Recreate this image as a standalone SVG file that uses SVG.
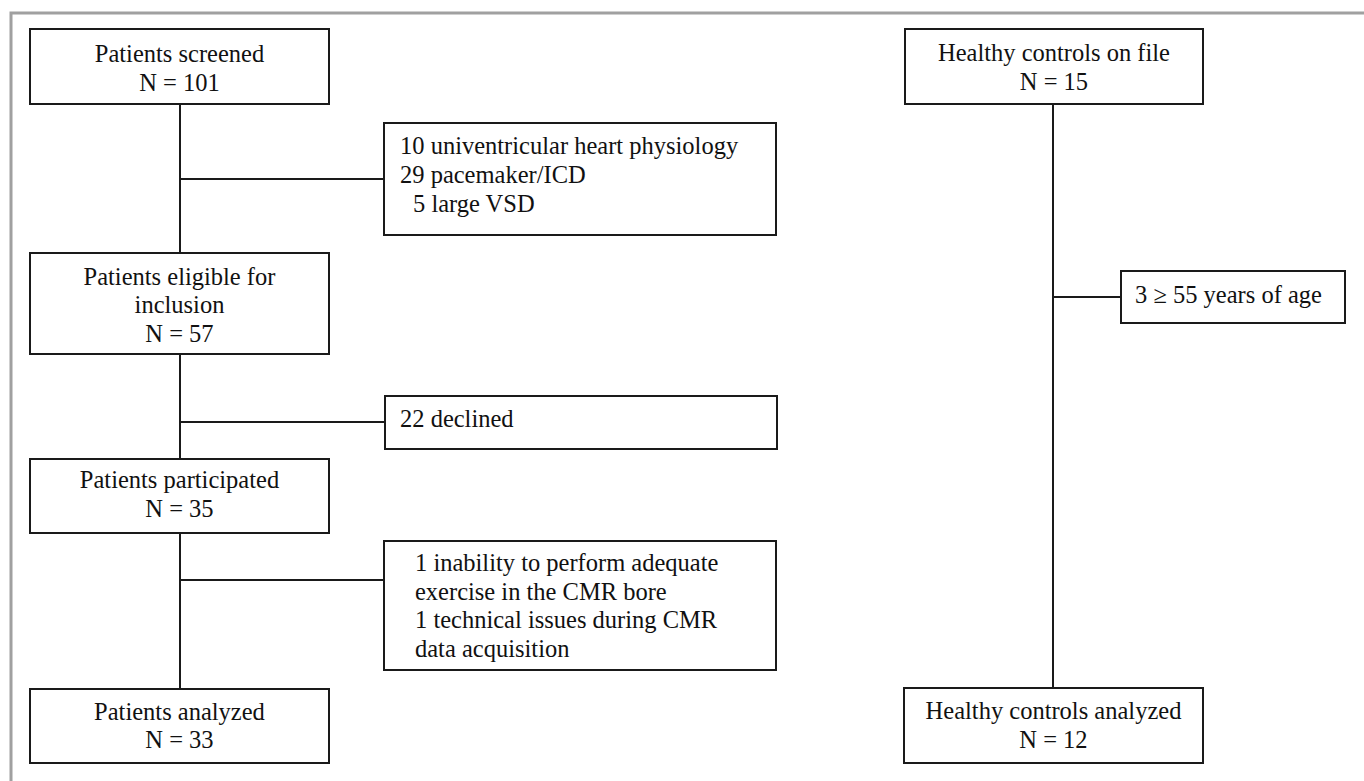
<svg xmlns="http://www.w3.org/2000/svg" width="1364" height="781" viewBox="0 0 1364 781">
<style>
.box{fill:#fff;stroke:#1a1a1a;stroke-width:2}
.ln{stroke:#1a1a1a;stroke-width:2;fill:none}
.c{text-anchor:middle}
</style>
<rect width="1364" height="781" fill="#fff"/>
<path d="M11,781 V13 H1364" fill="none" stroke="#a0a0a0" stroke-width="3"/>
<g id="connectors">
<line class="ln" x1="180" y1="104" x2="180" y2="689"/>
<line class="ln" x1="180" y1="179" x2="384" y2="179"/>
<line class="ln" x1="180" y1="422" x2="385" y2="422"/>
<line class="ln" x1="180" y1="580" x2="384" y2="580"/>
<line class="ln" x1="1053" y1="104" x2="1053" y2="688"/>
<line class="ln" x1="1053" y1="297" x2="1121" y2="297"/>
</g>
<g font-family="Liberation Serif, DejaVu Serif, serif" font-size="24.5" fill="#111">
<g id="screened">
<rect class="box" x="30" y="29" width="299" height="75"/>
<text class="c" x="179.5" y="62">Patients screened</text>
<text class="c" x="179.5" y="91">N = 101</text>
</g>
<g id="excl1">
<rect class="box" x="384" y="123" width="392" height="112"/>
<text x="400" y="154">10 univentricular heart physiology</text>
<text x="400" y="183">29 pacemaker/ICD</text>
<text x="413" y="212">5 large VSD</text>
</g>
<g id="eligible">
<rect class="box" x="30" y="253" width="299" height="101"/>
<text class="c" x="179.5" y="285">Patients eligible for</text>
<text class="c" x="179.5" y="313">inclusion</text>
<text class="c" x="179.5" y="342">N = 57</text>
</g>
<g id="declined">
<rect class="box" x="385" y="396" width="392" height="53"/>
<text x="400" y="427">22 declined</text>
</g>
<g id="participated">
<rect class="box" x="30" y="459" width="299" height="74"/>
<text class="c" x="179.5" y="488">Patients participated</text>
<text class="c" x="179.5" y="517">N = 35</text>
</g>
<g id="excl3">
<rect class="box" x="384" y="541" width="392" height="129"/>
<text x="415" y="571">1 inability to perform adequate</text>
<text x="415" y="600">exercise in the CMR bore</text>
<text x="415" y="628">1 technical issues during CMR</text>
<text x="415" y="657">data acquisition</text>
</g>
<g id="analyzed">
<rect class="box" x="30" y="689" width="299" height="74"/>
<text class="c" x="179.5" y="720">Patients analyzed</text>
<text class="c" x="179.5" y="748">N = 33</text>
</g>
<g id="controls">
<rect class="box" x="905" y="29" width="298" height="75"/>
<text class="c" x="1054" y="61">Healthy controls on file</text>
<text class="c" x="1054" y="90">N = 15</text>
</g>
<g id="age">
<rect class="box" x="1121" y="271" width="224" height="52"/>
<text x="1135" y="303">3 ≥ 55 years of age</text>
</g>
<g id="controls-analyzed">
<rect class="box" x="904" y="688" width="299" height="75"/>
<text class="c" x="1053.5" y="719">Healthy controls analyzed</text>
<text class="c" x="1053.5" y="748">N = 12</text>
</g>
</g>
</svg>
